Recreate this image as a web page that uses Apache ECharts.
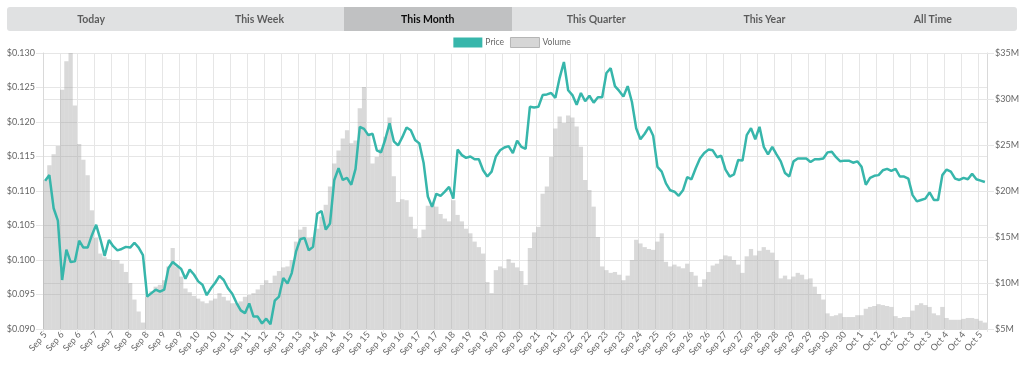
<!DOCTYPE html>
<html>
<head>
<meta charset="utf-8">
<script src="https://cdn.jsdelivr.net/npm/echarts@6/dist/echarts.min.js"></script>
<style>
  html, body { margin: 0; padding: 0; background: #fff; }
  #chart { position: absolute; left: 0; top: 0; width: 1024px; height: 365px; }
  #tabs { position: absolute; left: 7px; top: 7px; width: 1010px; height: 24px; display: flex;
          background: #e0e1e2; border-radius: 3px; overflow: hidden; z-index: 5;
          font-family: Lato, "Open Sans", sans-serif; font-weight: 700; font-size: 10.5px; }
  #tabs div { flex: 1; text-align: center; line-height: 24px; color: rgba(0,0,0,0.6); }
  #tabs div.active { background: #c0c1c2; color: rgba(0,0,0,0.95); }
</style>
</head>
<body>
<div id="chart"></div>
<div id="tabs"></div>
<script>
const tabNames = ['Today', 'This Week', 'This Month', 'This Quarter', 'This Year', 'All Time'];
const activeTab = 'This Month';

const tickLabels = ['Sep 5','Sep 6','Sep 6','Sep 7','Sep 7','Sep 8','Sep 8','Sep 9','Sep 9','Sep 10','Sep 10',
  'Sep 11','Sep 11','Sep 12','Sep 13','Sep 13','Sep 14','Sep 14','Sep 15','Sep 15','Sep 16','Sep 16',
  'Sep 17','Sep 17','Sep 18','Sep 19','Sep 19','Sep 20','Sep 20','Sep 21','Sep 21','Sep 22','Sep 22',
  'Sep 23','Sep 23','Sep 24','Sep 25','Sep 25','Sep 26','Sep 26','Sep 27','Sep 27','Sep 28','Sep 28',
  'Sep 29','Sep 29','Sep 30','Sep 30','Oct 1','Oct 2','Oct 2','Oct 3','Oct 3','Oct 4','Oct 4','Oct 5'];
const pointsPerTick = 4;

const price = [
  0.1115,0.1123,0.1075,0.1057,0.0971,0.1015,0.0997,0.0998,0.1028,0.1018,
  0.1018,0.1036,0.1051,0.1030,0.1006,0.1029,0.1020,0.1014,0.1016,0.1019,
  0.1018,0.1025,0.1018,0.1007,0.0947,0.0952,0.0957,0.0954,0.0957,0.0988,
  0.0997,0.0992,0.0987,0.0973,0.0986,0.0979,0.0969,0.0964,0.0949,0.0959,
  0.0967,0.0977,0.0971,0.0959,0.0951,0.0938,0.0927,0.0923,0.0937,0.0918,
  0.0918,0.0908,0.0915,0.0907,0.0941,0.0947,0.0974,0.0966,0.0981,0.1012,
  0.1030,0.1032,0.1014,0.1019,0.1067,0.1071,0.1044,0.1053,0.1116,0.1133,
  0.1116,0.1119,0.1109,0.1132,0.1193,0.1190,0.1181,0.1183,0.1159,0.1156,
  0.1175,0.1198,0.1172,0.1166,0.1178,0.1192,0.1188,0.1174,0.1169,0.1141,
  0.1092,0.1077,0.1096,0.1093,0.1099,0.1106,0.1089,0.1160,0.1152,0.1148,
  0.1150,0.1146,0.1146,0.1130,0.1121,0.1128,0.1150,0.1159,0.1163,0.1165,
  0.1155,0.1173,0.1164,0.1161,0.1222,0.1221,0.1222,0.1239,0.1240,0.1242,
  0.1235,0.1264,0.1287,0.1246,0.1239,0.1225,0.1242,0.1230,0.1238,0.1228,
  0.1236,0.1236,0.1271,0.1278,0.1252,0.1245,0.1237,0.1252,0.1229,0.1191,
  0.1175,0.1183,0.1193,0.1180,0.1135,0.1128,0.1111,0.1101,0.1099,0.1093,
  0.1101,0.1120,0.1117,0.1133,0.1147,0.1155,0.1160,0.1159,0.1149,0.1151,
  0.1131,0.1121,0.1124,0.1145,0.1144,0.1181,0.1191,0.1175,0.1193,0.1164,
  0.1153,0.1164,0.1153,0.1143,0.1126,0.1121,0.1143,0.1147,0.1147,0.1147,
  0.1142,0.1146,0.1146,0.1147,0.1156,0.1157,0.1149,0.1143,0.1144,0.1144,
  0.1141,0.1143,0.1135,0.1109,0.1119,0.1122,0.1123,0.1130,0.1132,0.1129,
  0.1132,0.1121,0.1121,0.1118,0.1094,0.1085,0.1087,0.1089,0.1098,0.1087,
  0.1087,0.1123,0.1131,0.1128,0.1118,0.1116,0.1119,0.1117,0.1125,0.1117,
  0.1115,0.1113];

// volume in millions of dollars
const volume = [
  21.2,22.8,24.0,24.9,31.0,34.1,35.0,29.3,25.1,23.4,
  21.7,17.9,14.9,13.2,12.8,12.6,12.5,12.5,12.1,11.2,
  10.0,8.2,6.9,5.7,8.5,9.1,9.6,9.8,10.3,11.8,
  13.8,11.8,10.7,9.4,9.0,8.6,8.3,8.0,7.8,8.1,
  8.3,8.9,8.5,8.1,7.8,7.8,8.0,8.5,8.7,8.9,
  9.3,9.8,10.3,10.0,10.8,11.3,11.7,11.8,12.5,14.5,
  15.8,16.1,14.9,15.0,15.9,17.2,18.5,20.5,23.0,24.4,
  25.7,26.6,25.2,25.5,29.0,31.3,26.3,23.0,23.7,24.6,
  25.9,28.0,21.6,18.8,19.1,19.0,17.2,15.9,14.9,15.8,
  18.4,18.7,18.3,17.5,17.0,16.7,19.0,17.4,16.7,15.9,
  15.4,14.5,13.9,13.2,10.1,8.9,11.4,11.8,11.6,12.6,
  12.2,11.7,11.3,9.8,13.8,15.5,16.1,19.7,20.5,23.7,
  26.8,28.1,27.4,28.2,28.0,27.0,24.8,21.2,20.1,18.3,
  15.0,11.8,11.4,11.1,11.2,10.9,10.3,10.8,12.5,14.7,
  14.3,13.9,13.7,13.6,14.5,15.4,12.3,11.8,12.0,11.8,
  11.6,12.1,11.2,10.8,9.6,10.4,11.2,11.9,12.1,12.6,
  13.0,12.9,12.5,12.0,11.1,12.9,13.7,13.0,13.5,13.9,
  13.6,13.3,12.5,10.5,10.8,10.4,10.7,11.1,10.9,10.4,
  10.5,9.6,8.8,8.2,6.7,6.4,6.5,6.7,6.3,6.3,
  6.3,6.5,6.5,7.2,7.4,7.5,7.7,7.6,7.5,7.4,
  6.4,6.2,6.3,6.3,7.0,7.6,7.8,7.6,7.4,6.7,
  6.5,7.4,6.2,6.0,6.0,6.0,6.1,6.2,6.2,6.1,
  5.9,5.7];

const categories = price.map((_, i) => String(i));

// tabs
const tabsEl = document.getElementById('tabs');
tabNames.forEach(n => {
  const d = document.createElement('div');
  d.textContent = n;
  if (n === activeTab) d.className = 'active';
  tabsEl.appendChild(d);
});

const gridColor = '#e6e6e6';
const labelColor = '#666';
const fontFam = 'Lato, "Liberation Sans", sans-serif';

const chart = echarts.init(document.getElementById('chart'), null, { renderer: 'canvas' });
chart.setOption({
  animation: false,
  backgroundColor: '#fff',
  legend: {
    top: 37, left: 'center', padding: 0, itemGap: 6, itemWidth: 29, itemHeight: 10,
    textStyle: { color: labelColor, fontSize: 8.5, fontFamily: fontFam, padding: [0, 0, 0, -2] },
    data: [
      { name: 'Price', icon: 'rect' },
      { name: 'Volume', icon: 'rect', itemStyle: { color: '#d6d6d6', borderColor: '#b5b5b5', borderWidth: 1 } }
    ]
  },
  grid: { left: 43, right: 37, top: 53, bottom: 36, containLabel: false },
  xAxis: {
    type: 'category', data: categories, boundaryGap: true,
    axisLine: { show: true, lineStyle: { color: '#d9d9d9', width: 1 } },
    axisTick: { show: true, interval: pointsPerTick - 1, length: 3, lineStyle: { color: gridColor } },
    splitLine: { show: true, interval: pointsPerTick - 1, lineStyle: { color: gridColor, width: 1 } },
    axisLabel: {
      interval: pointsPerTick - 1, rotate: 50, margin: 4, color: labelColor, fontSize: 9, fontFamily: fontFam,
      formatter: (v, idx) => tickLabels[Math.round(idx / pointsPerTick)] || ''
    }
  },
  yAxis: [
    {
      type: 'value', position: 'left', min: 0.09, max: 0.13, interval: 0.005,
      axisLine: { show: true, lineStyle: { color: '#d9d9d9' } },
      axisTick: { show: true, length: 7, lineStyle: { color: gridColor } },
      splitLine: { show: true, lineStyle: { color: gridColor } },
      axisLabel: { margin: 8, color: labelColor, fontSize: 9, fontFamily: fontFam,
        formatter: v => '$' + v.toFixed(3) }
    },
    {
      type: 'value', position: 'right', min: 5, max: 35, interval: 5,
      axisLine: { show: true, lineStyle: { color: '#d9d9d9' } },
      axisTick: { show: true, length: 7, lineStyle: { color: gridColor } },
      splitLine: { show: true, lineStyle: { color: gridColor } },
      axisLabel: { margin: 8, color: labelColor, fontSize: 9, fontFamily: fontFam,
        formatter: v => '$' + v + 'M' }
    }
  ],
  series: [
    {
      name: 'Volume', type: 'bar', yAxisIndex: 1, data: volume,
      barCategoryGap: '0%', clip: true,
      itemStyle: { color: 'rgba(150,150,150,0.36)' }
    },
    {
      name: 'Price', type: 'line', yAxisIndex: 0, data: price,
      showSymbol: false, symbol: 'none', smooth: false,
      lineStyle: { color: '#37b6ab', width: 2.5 },
      itemStyle: { color: '#37b6ab' }
    }
  ]
});
</script>
</body>
</html>
